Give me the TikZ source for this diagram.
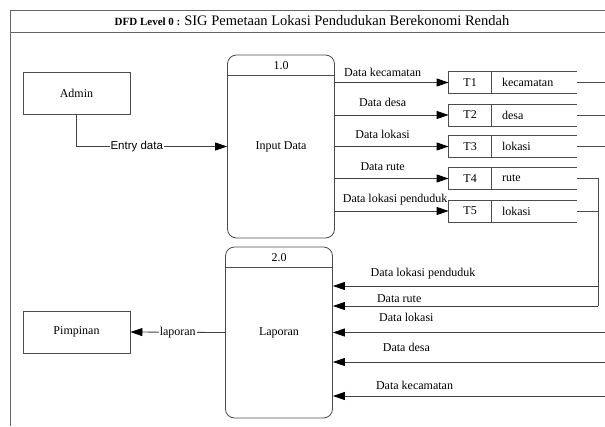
\documentclass[tikz,border=0pt]{standalone}
\usepackage{fontspec}
\setmainfont{Liberation Serif}
\newfontfamily\arialfont{Liberation Sans}
\usetikzlibrary{arrows.meta}

\begin{document}
\begin{tikzpicture}[x=1pt,y=-1pt,
    line width=0.8pt, draw=black!70,
    font=\fontsize{12}{14}\selectfont,
    entity/.style={draw=black!70, minimum width=107pt, minimum height=42pt, inner sep=0pt},
    proc/.style={draw=black!70, rounded corners=9pt, minimum width=107pt, inner sep=0pt},
    store/.style={minimum width=128pt, minimum height=21pt, inner sep=0pt},
    flow/.style={draw=black!75, -{Triangle[length=12pt,width=8pt,color=black]}},
    lbl/.style={inner sep=1pt, text height=8pt, text depth=2pt}]
    \useasboundingbox (0,0) rectangle (605,426);

    % Frame and title
    \draw[black!60] (10,426) -- (10,10) -- (605,10);
    \draw[black!60] (10,32) -- (605,32);
    \node (title) at (312,21) {{\fontsize{11}{13}\selectfont\bfseries DFD Level 0 :} {\fontsize{14.5}{16}\selectfont SIG Pemetaan Lokasi Pendudukan Berekonomi Rendah}};
    \coordinate (R) at (605,0);

    % Entities
    \node[entity] (adm) at (76.5,93.5) {Admin};
    \node[entity] (pim) at (76.5,332) {Pimpinan};

    % Processes
    \node[proc, minimum height=183pt] (inp) at (281,146.5) {Input Data};
    \draw ([yshift=-21pt]inp.north west) -- ([yshift=-21pt]inp.north east);
    \node (inpno) at ([yshift=-10.5pt]inp.north) {1.0};
    \node[proc, minimum height=171pt] (lap) at (279,332.5) {Laporan};
    \draw ([yshift=-21pt]lap.north west) -- ([yshift=-21pt]lap.north east);
    \node (lapno) at ([yshift=-10.5pt]lap.north) {2.0};

    % Data stores
    \foreach \i/\y/\name in {1/82.5/kecamatan, 2/115/desa, 3/146.5/lokasi, 4/178.5/rute, 5/211/lokasi} {
        \node[store] (st\i) at (513,\y) {};
        \draw (st\i.north east) -- (st\i.north west) -- (st\i.south west) -- (st\i.south east);
        \draw ([xshift=43pt]st\i.north west) -- ([xshift=43pt]st\i.south west);
        \node (tid\i) at ([xshift=21.5pt]st\i.west) {T\i};
        \node[anchor=west, inner sep=0pt] (sname\i) at ([xshift=53pt]st\i.west) {\name};
    }

    % Flows into Input Data and out to the stores
    \draw[flow] (adm.south) |- (inp.west) node[pos=0.7, fill=white, inner sep=1pt, font=\arialfont\fontsize{11.5}{13}\selectfont] {Entry data};
    \draw[flow] (inp.east |- st1.west) -- (st1.west) node[lbl, pos=0.42, above=3pt] {Data kecamatan};
    \draw[flow] (inp.east |- st2.west) -- (st2.west) node[lbl, pos=0.42, above=5pt] {Data desa};
    \draw[flow] (inp.east |- st3.west) -- (st3.west) node[lbl, pos=0.42, above=5pt] {Data lokasi};
    \draw[flow] (inp.east |- st4.west) -- (st4.west) node[lbl, pos=0.42, above=5pt] {Data rute};
    \draw[flow] (inp.east |- st5.west) -- (st5.west) node[lbl, pos=0.53, above=5pt] {Data lokasi penduduk};

    % Flows out of the stores
    \foreach \i in {1,2,3} \draw (st\i.east) -- (st\i.east -| R);
    \coordinate (bus) at (598,306);
    \coordinate (in1) at ([yshift=46.5pt]lap.east);
    \coordinate (in2) at ([yshift=26.5pt]lap.east);
    \coordinate (in3) at (lap.east);
    \coordinate (in4) at ([yshift=-29.5pt]lap.east);
    \coordinate (in5) at ([yshift=-63.5pt]lap.east);
    \draw (st4.east) -| (bus);
    \draw (st5.east) -- (st5.east -| bus);

    % Flows into Laporan
    \draw[flow] (bus |- in1) -- (in1) node[lbl, pos=0.66, above=6pt] {Data lokasi penduduk};
    \draw[flow] (bus) -- (in2) node[lbl, pos=0.75, above=0pt] {Data rute};
    \draw[flow] (R |- in3) -- (in3) node[lbl, pos=0.73, above=8pt] {Data lokasi};
    \draw[flow] (R |- in4) -- (in4) node[lbl, pos=0.73, above=7pt] {Data desa};
    \draw[flow] (R |- in5) -- (in5) node[lbl, pos=0.70, above=3pt] {Data kecamatan};
    \draw[flow] (lap.west) -- (pim.east) node[midway, fill=white, inner sep=1pt] {laporan};
\end{tikzpicture}
\end{document}
